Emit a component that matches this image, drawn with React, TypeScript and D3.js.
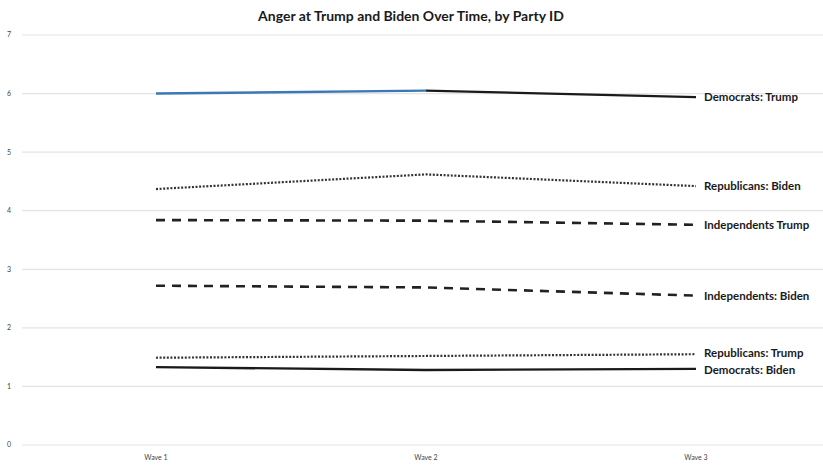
import React from "react";
import * as d3 from "d3";

const waves = ["Wave 1", "Wave 2", "Wave 3"];
const yTicks = [0, 1, 2, 3, 4, 5, 6, 7];

const demTrump = [6.0, 6.05, 5.94];
const repBiden = [4.37, 4.62, 4.42];
const indTrump = [3.84, 3.83, 3.76];
const indBiden = [2.72, 2.69, 2.55];
const repTrump = [1.49, 1.52, 1.55];
const demBiden = [1.33, 1.28, 1.30];

const seriesNames = [
  "Democrats: Trump",
  "Republicans: Biden",
  "Independents Trump",
  "Independents: Biden",
  "Republicans: Trump",
  "Democrats: Biden",
];
const seriesValues = [demTrump, repBiden, indTrump, indBiden, repTrump, demBiden];
const seriesStyle = ["solid", "dot", "dash", "dash", "dot", "solid"];
// colour of each segment (first segment of Democrats: Trump is blue in the original)
const segmentColors = [
  ["#3b79b4", "#1a1a1a"],
  ["#333", "#333"],
  ["#222", "#222"],
  ["#222", "#222"],
  ["#333", "#333"],
  ["#1a1a1a", "#1a1a1a"],
];
const labelOffsets = [0, 0, 0, 0, -1, 1];

const W = 823;
const H = 465;
const FONT = "Lato, 'Open Sans', sans-serif";

export default function App() {
  const x = d3.scalePoint<string>().domain(waves).range([156, 696]);
  const y = d3.scaleLinear().domain([0, 7]).range([445, 35]);

  const dashFor = (s: string) =>
    s === "dash" ? "9,7" : s === "dot" ? "2,1.6" : undefined;
  const widthFor = (s: string) => (s === "dash" ? 2.6 : s === "dot" ? 2.2 : 2.4);

  return (
    <svg
      width={W}
      height={H}
      style={{ position: "absolute", left: 0, top: 0, background: "#fff" }}
      fontFamily={FONT}
    >
      <rect width={W} height={H} fill="#fff" />
      <text
        x={411}
        y={21}
        textAnchor="middle"
        fontSize={14}
        fontWeight={700}
        fill="#1a1a1a"
      >
        Anger at Trump and Biden Over Time, by Party ID
      </text>
      {yTicks.map((t) => (
        <g key={t}>
          <line x1={22} x2={823} y1={y(t)} y2={y(t)} stroke="#e4e4e4" strokeWidth={1.2} />
          <text x={9} y={y(t)} dy="0.35em" textAnchor="middle" fontSize={7} fill="#444">
            {t}
          </text>
        </g>
      ))}
      {waves.map((w) => (
        <text key={w} x={x(w)} y={460} textAnchor="middle" fontSize={7} fill="#444">
          {w}
        </text>
      ))}
      {seriesValues.map((vals, i) => {
        const style = seriesStyle[i];
        const segs = [];
        for (let k = 0; k < vals.length - 1; k++) {
          const line = d3
            .line<number>()
            .x((_, j) => x(waves[k + j]) as number)
            .y((v) => y(v));
          segs.push(
            <path
              key={k}
              d={line([vals[k], vals[k + 1]]) || ""}
              fill="none"
              stroke={segmentColors[i][k]}
              strokeWidth={widthFor(style)}
              strokeDasharray={dashFor(style)}
            />
          );
        }
        if (style !== "solid") {
          const line = d3
            .line<number>()
            .x((_, j) => x(waves[j]) as number)
            .y((v) => y(v));
          return (
            <path
              key={i}
              d={line(vals) || ""}
              fill="none"
              stroke={segmentColors[i][0]}
              strokeWidth={widthFor(style)}
              strokeDasharray={dashFor(style)}
            />
          );
        }
        return <g key={i}>{segs}</g>;
      })}
      {seriesValues.map((vals, i) => (
        <text
          key={"l" + i}
          x={(x(waves[2]) as number) + 8}
          y={y(vals[2]) + labelOffsets[i]}
          dy="0.35em"
          fontSize={11.5}
          fontWeight={700}
          fill="#1a1a1a"
        >
          {seriesNames[i]}
        </text>
      ))}
    </svg>
  );
}
